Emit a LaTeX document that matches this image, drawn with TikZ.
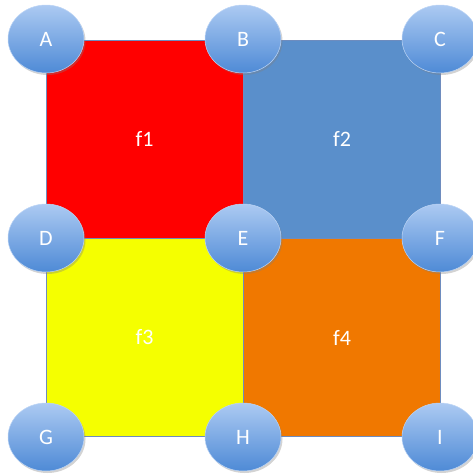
\documentclass[tikz,border=0pt]{standalone}
\usepackage{fontspec}
\setmainfont{Carlito}
\usetikzlibrary{shapes.geometric,shadows}
\definecolor{cred}{RGB}{255,0,0}
\definecolor{cblue}{RGB}{90,143,203}
\definecolor{cyellow}{RGB}{245,255,0}
\definecolor{corange}{RGB}{240,120,0}
\definecolor{cedge}{RGB}{110,140,190}
\definecolor{ctop}{RGB}{172,202,242}
\definecolor{cbot}{RGB}{78,138,214}
\tikzset{
  face/.style={draw=cedge, line width=0.8pt, minimum width=197pt, minimum height=198pt,
    inner sep=0pt, text=white, font=\fontsize{22}{24}\selectfont},
  vert/.style={ellipse, minimum width=76pt, minimum height=68pt, inner sep=0pt,
    draw=ctop!80!white, line width=0.5pt, top color=ctop, bottom color=cbot,
    text=white, font=\fontsize{22}{24}\selectfont,
    drop shadow={shadow xshift=1.5pt, shadow yshift=-2pt, opacity=0.35}}
}
\begin{document}
\begin{tikzpicture}[x=1pt,y=-1pt]
\useasboundingbox (0,0) rectangle (473,474);
\node[face, fill=cred]    (f1) at (144.5,139) {f1};
\node[face, fill=cblue]   (f2) at (342,139)   {f2};
\node[face, fill=cyellow] (f3) at (144.5,337.5) {f3};
\node[face, fill=corange] (f4) at (342,337.5)   {f4};
\node[vert] (A) at (46,39)  {A};
\node[vert] (B) at (243,39) {B};
\node[vert] (C) at (440,39) {C};
\node[vert] (D) at (46,238)  {D};
\node[vert] (E) at (243,238) {E};
\node[vert] (F) at (440,238) {F};
\node[vert] (G) at (46,437)  {G};
\node[vert] (H) at (243,437) {H};
\node[vert] (I) at (440,437) {I};
\end{tikzpicture}
\end{document}
